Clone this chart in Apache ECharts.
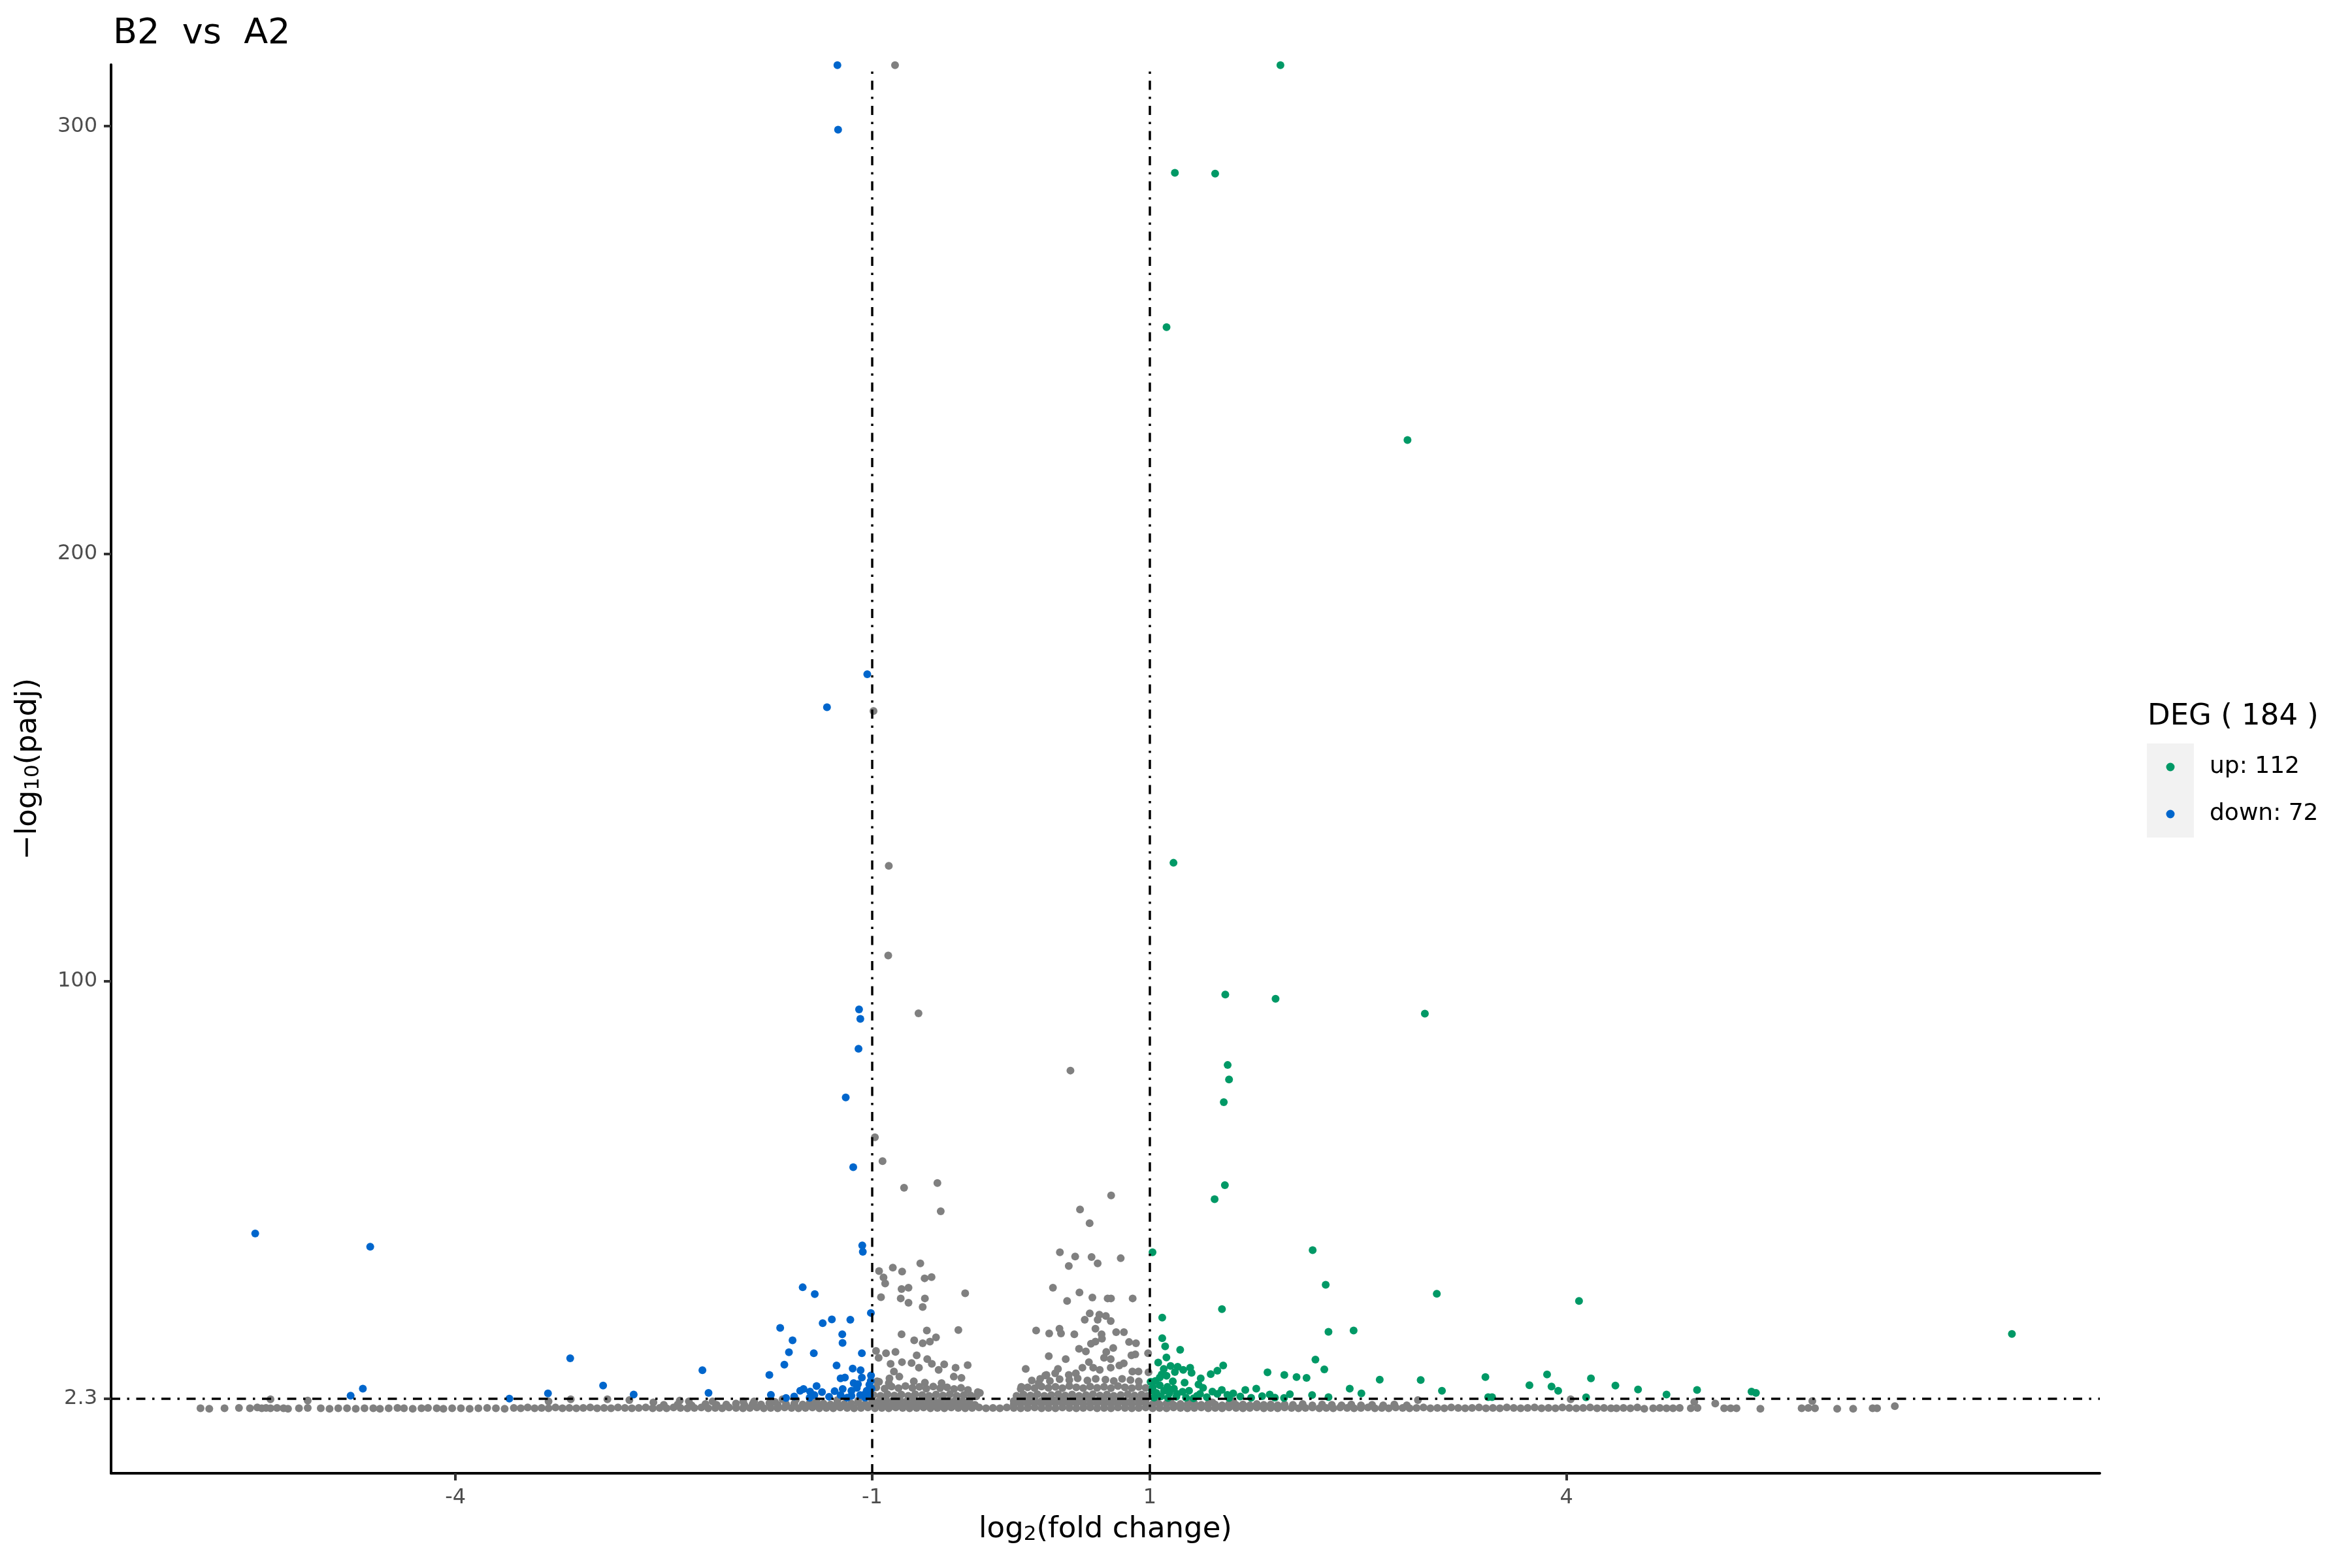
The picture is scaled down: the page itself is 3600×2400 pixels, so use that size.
<!DOCTYPE html>
<html>
<head>
<meta charset="utf-8">
<script src="https://cdn.jsdelivr.net/npm/echarts@6/dist/echarts.min.js"></script>
<style>html,body{margin:0;padding:0;background:#fff;}#c{width:3600px;height:2400px;}</style>
</head>
<body>
<div id="c"></div>
<script>
const titleText = 'B2  vs  A2';
const legendTitle = 'DEG ( 184 )';
const upName = 'up: 112';
const downName = 'down: 72';
const xTicks = [-4, -1, 1, 4];
const yTicks = [2.3, 100, 200, 300];
const fcCut = [-1, 1];
const padjCut = 2.3;

// significant up-regulated genes [log2FC, -log10(padj)]
const upPoints = [
[1.94,314.3],[1.18,289.1],[1.47,288.9],[1.12,253.0],[2.855,226.6],[1.17,127.7],[1.543,96.9],[1.905,95.9],
[2.98,92.4],[1.56,80.4],[1.57,77.0],[1.532,71.7],[1.54,52.3],[1.466,49.0],[2.172,37.1],[1.019,36.6],
[2.266,29.0],[3.066,26.9],[4.09,25.2],[1.519,23.3],[1.089,21.3],[2.286,18.0],[2.467,18.3],[7.207,17.5],
[1.089,16.5],[1.11,14.6],[1.119,12.0],[1.218,13.8],[2.192,11.5],[2.256,9.2],[1.847,8.5],[1.968,7.9],
[2.056,7.4],[2.128,7.2],[2.655,6.8],[2.95,6.7],[1.528,10.1],[1.486,8.9],[1.438,8.1],[1.366,7.1],
[1.29,9.6],[1.30,8.4],[1.24,9.1],[1.20,9.8],[1.149,10.0],[1.10,9.3],[1.085,8.0],[1.071,7.3],
[1.039,6.5],[1.005,6.3],[1.165,6.4],[1.25,6.1],[1.383,4.9],[2.439,4.7],[2.523,3.6],[1.687,4.4],
[1.766,4.7],[1.518,4.4],[2.168,3.2],[2.286,2.7],[2.008,3.4],[1.966,2.5],[1.863,3.3],[1.808,2.95],
[1.729,2.55],[1.651,2.85],[1.558,3.25],[1.486,3.45],[1.361,3.45],[1.314,2.45],[1.282,4.2],[1.235,3.95],
[1.196,3.45],[1.141,3.7],[1.102,4.2],[1.047,3.7],[1.016,4.2],[1.071,5.5],[1.126,5.1],[1.173,4.7],
[3.103,4.2],[3.416,7.4],[3.436,2.7],[3.464,2.7],[3.733,5.5],[3.86,8.0],[3.892,5.2],[3.94,4.2],
[4.141,2.65],[4.176,7.1],[4.352,5.4],[4.515,4.5],[4.72,3.3],[4.94,4.4],[5.332,4.0],[5.364,3.7],
[1.03,2.6],[1.08,2.9],[1.13,2.5],[1.19,2.8],[1.26,2.6],[1.34,3.0],[1.41,2.7],[1.45,4.0],
[1.6,3.6],[1.06,10.8],[1.12,7.7],[1.18,8.6],[1.35,5.7],[1.02,5.0],[1.57,2.5],[1.9,2.6]
];

// significant down-regulated genes
const downPoints = [
[-1.25,314.3],[-1.245,299.2],[-1.035,171.8],[-1.325,164.1],[-1.094,93.4],[-1.085,91.2],[-1.098,84.2],[-1.19,72.8],
[-1.136,56.5],[-5.442,41.0],[-4.614,37.9],[-1.071,38.2],[-1.067,36.7],[-1.50,28.4],[-1.413,26.8],[-1.009,22.4],
[-1.356,20.0],[-1.29,20.9],[-1.157,20.8],[-1.662,18.9],[-1.215,17.4],[-1.213,15.4],[-1.573,16.0],[-1.599,13.2],
[-1.42,13.0],[-1.074,13.0],[-1.632,10.3],[-1.256,10.1],[-1.14,9.4],[-1.083,9.0],[-1.74,7.9],[-1.227,7.1],
[-1.196,7.3],[-1.074,7.3],[-1.008,7.8],[-1.01,6.5],[-1.133,6.0],[-1.102,5.75],[-1.40,5.3],[-1.361,3.9],
[-1.518,4.2],[-1.494,4.6],[-1.447,4.0],[-1.416,3.2],[-1.729,3.25],[-1.561,2.85],[-1.212,4.6],[-1.149,4.2],
[-1.039,4.2],[-1.005,4.7],[-1.227,3.2],[-1.149,3.0],[-1.086,3.2],[-1.055,3.3],[-1.016,3.2],[-3.174,11.8],
[-4.667,4.7],[-4.755,3.05],[-3.612,2.35],[-3.334,3.6],[-2.937,5.4],[-2.717,3.3],[-2.222,9.0],[-2.178,3.7],
[-1.18,2.6],[-1.31,2.8],[-1.62,2.5],[-1.05,2.6],[-1.45,2.55],[-1.27,4.1],[-1.02,5.6],[-1.11,4.9]
];

// non-significant genes above the padj cut
const grayCluster = [
[-0.835,314.3],[-0.99,163.2],[-0.88,127.0],[-0.884,106.0],[-0.666,92.5],[0.428,79.1],[-0.98,63.5],[-0.925,57.9],
[-0.77,51.7],[-0.53,52.8],[-0.506,46.2],[0.721,49.9],[0.497,46.6],[0.566,43.4],[0.79,35.2],[0.876,25.8],
[0.72,25.8],[0.757,17.9],[0.813,17.9],[0.85,15.6],[0.90,15.3],[0.736,14.2],[0.867,12.5],[0.895,12.7],
[0.987,13.0],[0.352,36.6],[0.462,35.6],[0.58,35.5],[0.624,34.0],[0.416,33.4],[0.302,28.3],[0.493,27.2],
[0.586,26.0],[0.696,25.8],[0.404,25.2],[0.567,22.3],[0.531,20.8],[0.636,22.0],[0.683,21.7],[0.624,20.8],
[0.718,20.5],[0.181,18.3],[0.275,17.6],[0.349,18.7],[0.36,17.6],[0.456,17.4],[0.608,18.7],[0.652,17.4],
[0.655,16.4],[0.576,15.2],[0.608,15.7],[0.49,14.0],[0.539,13.4],[0.272,12.3],[0.394,11.6],[0.561,10.9],
[0.67,11.9],[0.718,11.6],[0.686,13.3],[0.106,9.3],[0.255,7.9],[0.318,8.3],[0.338,9.3],[0.416,7.9],
[0.467,8.3],[0.514,9.6],[0.592,9.6],[0.639,9.1],[0.718,9.6],[0.78,10.1],[0.812,10.6],[0.874,8.7],
[0.918,8.7],[0.99,8.5],[0.074,5.1],[0.2,6.0],[0.247,7.8],[-0.224,3.7],
[-0.95,32.2],[-0.851,33.0],[-0.784,32.1],[-0.653,34.0],[-0.918,30.7],[-0.906,29.3],[-0.622,30.5],[-0.572,30.8],
[-0.788,28.0],[-0.738,28.3],[-0.936,26.1],[-0.794,25.8],[-0.738,24.8],[-0.62,25.8],[-0.636,23.8],[-0.33,27.0],
[-0.788,17.4],[-0.606,18.3],[-0.379,18.4],[-0.697,16.0],[-0.636,15.3],[-0.584,15.7],[-0.54,16.7],[-0.972,13.5],
[-0.9,13.0],[-0.832,13.3],[-0.953,11.9],[-0.679,12.5],[-0.785,10.9],[-0.716,10.7],[-0.603,11.6],[-0.57,10.5],
[-0.481,10.4],[-0.399,9.6],[-0.312,10.2],[-0.867,10.5],[-0.843,8.7],[-0.663,9.6],[-0.521,9.1],[-0.412,7.5],
[-0.357,7.2],[-0.964,6.4],[-0.875,7.1],[-0.804,7.5],[-0.239,3.9],
[-0.99,3.2],[-0.94,3.0],[-0.89,3.4],[-0.84,3.1],[-0.79,3.3],[-0.74,3.0],[-0.69,3.4],[-0.64,3.2],
[-0.59,3.0],[-0.54,3.3],[-0.49,3.1],[-0.44,3.4],[-0.39,3.0],[-0.34,3.2],[-0.29,3.1],[-0.25,2.9],
[-0.97,5.0],[-0.91,4.7],[-0.86,5.2],[-0.81,4.8],[-0.76,5.3],[-0.71,4.9],[-0.66,5.1],[-0.61,4.7],
[-0.56,5.2],[-0.51,4.8],[-0.46,5.0],[-0.41,4.6],[-0.36,4.9],[-0.31,4.4],
[-0.95,6.3],[-0.88,6.0],[-0.7,6.4],[-0.62,6.1],[-0.5,6.0],
[0.04,3.0],[0.09,3.3],[0.14,3.1],[0.19,3.4],[0.24,3.0],[0.29,3.2],[0.34,3.4],[0.39,3.1],
[0.44,3.3],[0.49,3.0],[0.54,3.2],[0.59,3.4],[0.64,3.1],[0.69,3.3],[0.74,3.0],[0.79,3.2],
[0.84,3.4],[0.89,3.1],[0.94,3.3],[0.98,3.0],
[0.07,4.6],[0.12,5.0],[0.17,4.8],[0.22,5.2],[0.27,4.9],[0.32,5.1],[0.37,4.8],[0.42,5.3],
[0.47,5.0],[0.52,4.8],[0.57,5.2],[0.62,4.9],[0.67,5.1],[0.72,4.8],[0.77,5.3],[0.82,5.0],
[0.87,4.8],[0.92,5.1],[0.97,4.9],
[0.15,6.6],[0.21,7.0],[0.28,6.5],[0.35,6.9],[0.42,6.7],[0.48,7.1],[0.55,6.6],[0.61,7.0],
[0.68,6.8],[0.74,6.5],[0.8,7.0],[0.86,6.7],[0.92,6.4]
];

// non-significant genes: dense band under the padj cut
const grayBand = [
[-3.58,0.2],[-3.53,0.1],[-3.48,0.3],[-3.43,0.1],[-3.38,0.2],[-3.33,0.1],[-3.28,0.3],[-3.23,0.1],[-3.18,0.2],[-3.13,0.1],
[-3.08,0.2],[-3.03,0.3],[-2.98,0.1],[-2.93,0.2],[-2.88,0.1],[-2.83,0.3],[-2.78,0.2],[-2.73,0.1],[-2.68,0.2],[-2.63,0.3],
[-2.58,0.1],[-2.53,0.2],[-2.48,0.1],[-2.43,0.3],[-2.38,0.2],[-2.33,0.1],[-2.28,0.2],[-2.23,0.3],[-2.18,0.1],[-2.13,0.2],
[-2.08,0.1],[-2.03,0.3],[-1.98,0.2],[-1.93,0.1],[-1.88,0.2],[-1.83,0.3],[-1.78,0.1],[-1.73,0.2],[-1.68,0.1],[-1.63,0.3],
[-1.58,0.2],[-1.53,0.1],[-1.48,0.2],[-1.43,0.3],[-1.38,0.1],[-1.33,0.2],[-1.28,0.1],[-1.23,0.3],[-1.18,0.2],[-1.13,0.1],
[-1.08,0.2],[-1.03,0.3],[-0.98,0.1],[-0.93,0.2],[-0.88,0.1],[-0.83,0.3],[-0.78,0.2],[-0.73,0.1],[-0.68,0.2],[-0.63,0.3],
[-0.58,0.1],[-0.53,0.2],[-0.48,0.1],[-0.43,0.3],[-0.38,0.2],[-0.33,0.1],[-0.28,0.2],[-0.23,0.3],[-0.18,0.1],[-0.13,0.2],
[-0.08,0.1],[-0.03,0.3],[0.02,0.2],[0.07,0.1],[0.12,0.2],[0.17,0.3],[0.22,0.1],[0.27,0.2],[0.32,0.1],[0.37,0.3],
[0.42,0.2],[0.47,0.1],[0.52,0.2],[0.57,0.3],[0.62,0.1],[0.67,0.2],[0.72,0.1],[0.77,0.3],[0.82,0.2],[0.87,0.1],
[0.92,0.2],[0.97,0.3],[1.02,0.1],[1.07,0.2],[1.12,0.1],[1.17,0.3],[1.22,0.2],[1.27,0.1],[1.32,0.2],[1.37,0.3],
[1.42,0.1],[1.47,0.2],[1.52,0.1],[1.57,0.3],[1.62,0.2],[1.67,0.1],[1.72,0.2],[1.77,0.3],[1.82,0.1],[1.87,0.2],
[1.92,0.1],[1.97,0.3],[2.02,0.2],[2.07,0.1],[2.12,0.2],[2.17,0.3],[2.22,0.1],[2.27,0.2],[2.32,0.1],[2.37,0.3],
[2.42,0.2],[2.47,0.1],[2.52,0.2],[2.57,0.3],[2.62,0.1],[2.67,0.2],[2.72,0.1],[2.77,0.3],[2.82,0.2],[2.87,0.1],
[2.92,0.2],[2.97,0.3],[3.02,0.1],[3.07,0.2],[3.12,0.1],[3.17,0.3],[3.22,0.2],[3.27,0.1],[3.32,0.2],[3.37,0.3],
[3.42,0.1],[3.47,0.2],[3.52,0.1],[3.57,0.3],[3.62,0.2],[3.67,0.1],[3.72,0.2],[3.77,0.3],[3.82,0.1],[3.87,0.2],
[3.92,0.1],[3.97,0.3],[4.02,0.2],[4.07,0.1],[4.12,0.2],[4.17,0.3],[4.22,0.1],[4.27,0.2],[4.32,0.1],
[-2.5,0.9],[-2.4,1.0],[-2.3,0.8],[-2.2,1.1],[-2.12,0.9],[-2.05,1.0],[-1.98,1.2],[-1.92,0.9],[-1.86,1.1],[-1.8,1.0],
[-1.74,1.3],[-1.68,0.9],[-1.62,1.1],[-1.56,1.2],[-1.5,1.0],[-1.45,1.3],[-1.4,1.1],[-1.35,1.2],[-1.3,1.0],[-1.25,1.3],
[-1.2,1.1],[-1.15,1.2],[-1.1,1.4],[-1.05,1.1],[-1.0,1.3],[-0.95,1.2],[-0.9,1.1],[-0.85,1.3],[-0.8,1.2],[-0.75,1.1],
[-0.7,1.3],[-0.65,1.2],[-0.6,1.1],[-0.55,1.3],[-0.5,1.2],[-0.45,1.1],[-0.4,1.3],[-0.35,1.2],[-0.3,1.0],[-0.26,0.9],
[0.02,1.0],[0.07,1.2],[0.12,1.1],[0.17,1.3],[0.22,1.2],[0.27,1.1],[0.32,1.3],[0.37,1.2],[0.42,1.1],[0.47,1.3],
[0.52,1.2],[0.57,1.1],[0.62,1.3],[0.67,1.2],[0.72,1.1],[0.77,1.3],[0.82,1.2],[0.87,1.1],[0.92,1.3],[0.97,1.2],
[1.02,1.1],[1.07,1.0],[1.12,1.2],[1.17,0.9],[1.22,1.1],[1.27,1.0],[1.32,1.2],[1.37,0.9],[1.42,1.1],[1.47,1.0],
[1.52,0.8],[1.57,1.1],[1.62,0.9],[1.67,1.0],[1.72,0.8],[1.77,1.1],[1.82,0.9],[1.87,1.0],[1.92,0.8],[1.97,1.0],
[2.03,0.9],[2.1,1.1],[2.17,0.8],[2.24,1.0],[2.31,0.9],[2.38,0.8],[2.45,1.0],[2.52,0.8],[2.6,0.9],[2.68,0.8],
[2.76,1.0],[2.85,0.8],
[-1.0,2.0],[-0.95,1.8],[-0.9,2.1],[-0.85,1.9],[-0.8,2.0],[-0.75,1.8],[-0.7,2.1],[-0.65,1.9],[-0.6,2.0],[-0.55,1.8],
[-0.5,2.1],[-0.45,1.9],[-0.4,2.0],[-0.35,1.8],[-0.3,1.9],
[0.02,1.8],[0.07,2.0],[0.12,1.9],[0.17,2.1],[0.22,1.8],[0.27,2.0],[0.32,1.9],[0.37,2.1],[0.42,1.8],[0.47,2.0],
[0.52,1.9],[0.57,2.1],[0.62,1.8],[0.67,2.0],[0.72,1.9],[0.77,2.1],[0.82,1.8],[0.87,2.0],[0.92,1.9],[0.97,2.1],
[1.05,1.7],[1.15,1.6],[1.3,1.8],[1.45,1.5],[1.6,1.7],
[-1.1,1.9],[-1.25,2.0],[-1.4,1.8],[-1.55,2.1],[-1.7,1.6],[-1.85,1.7]
];

// non-significant genes: sparse tails
const grayTail = [
[-5.836,0.1],[-5.773,0.0],[-5.663,0.1],[-5.559,0.2],[-5.48,0.1],[-5.427,0.3],[-5.395,0.1],[-5.364,0.2],
[-5.332,2.2],[-5.332,0.1],[-5.285,0.2],[-5.238,0.1],[-5.206,0.0],[-5.127,0.1],[-5.064,1.9],[-5.064,0.2],
[-4.97,0.1],[-4.907,0.0],[-4.844,0.1],[-4.781,0.1],[-4.718,0.0],[-4.655,0.1],[-4.592,0.1],[-4.544,0.0],
[-4.481,0.1],[-4.418,0.2],[-4.371,0.1],[-4.308,0.0],[-4.245,0.1],[-4.198,0.2],[-4.135,0.1],[-4.087,0.0],
[-4.024,0.1],[-3.961,0.1],[-3.898,0.0],[-3.835,0.1],[-3.772,0.2],[-3.709,0.1],[-3.646,0.0],
[-3.33,1.7],[-3.17,2.2],[-2.906,2.2],[-2.748,2.0],[-2.575,1.5],[-2.385,1.9],[-2.32,1.7],[-2.149,1.7],
[-1.928,1.7],[-1.645,2.2],[2.93,2.0],[4.03,2.2],
[4.36,0.1],[4.41,0.2],[4.46,0.1],[4.51,0.3],[4.56,0.0],[4.624,0.1],[4.672,0.2],[4.72,0.1],
[4.767,0.1],[4.815,0.2],[4.895,0.1],[4.92,1.6],[4.943,0.2],[5.071,1.2],[5.135,0.1],[5.182,0.1],
[5.224,0.1],[5.396,0.0],[5.693,0.1],[5.741,0.2],[5.77,1.8],[5.789,0.1],[5.949,0.0],[6.064,0.0],
[6.204,0.1],[6.236,0.1],[6.364,0.6]
];

const colUp = '#009966', colDown = '#0066CC', colNo = '#808080';
const FONT = 'DejaVu Sans';
const dotSize = 12;

const chart = echarts.init(document.getElementById('c'), null, {renderer: 'canvas'});
const dash = [14, 10.5, 3.5, 10.5];
const legendItems = [
  {name: upName, color: colUp, cy: 1174},
  {name: downName, color: colDown, cy: 1246}
];
const legendGraphics = [
  {type: 'rect', left: 3286, top: 1138, z: 0, shape: {width: 72, height: 144}, style: {fill: '#F2F2F2'}},
  {type: 'text', x: 3287, y: 1097, z: 5,
   style: {text: legendTitle, fontSize: 45, fontFamily: FONT, fill: '#000', verticalAlign: 'middle', align: 'left'}}
];
legendItems.forEach(function (it) {
  legendGraphics.push({type: 'circle', z: 5, shape: {cx: 3322, cy: it.cy, r: 6.5}, style: {fill: it.color}});
  legendGraphics.push({type: 'text', x: 3382, y: it.cy, z: 5,
    style: {text: it.name, fontSize: 36, fontFamily: FONT, fill: '#000', verticalAlign: 'middle', align: 'left'}});
});

const option = {
  animation: false,
  backgroundColor: '#ffffff',
  textStyle: {fontFamily: FONT},
  title: {
    text: titleText, left: 168, top: 20,
    textStyle: {fontSize: 54, fontWeight: 'normal', color: '#000', fontFamily: FONT}
  },
  grid: {left: 170, top: 99, width: 3044, height: 2156, containLabel: false},
  xAxis: {
    type: 'value', min: -6.48, max: 7.84,
    name: '{a|log}{s|2}{a|(fold change)}',
    nameLocation: 'middle', nameGap: 64,
    nameTextStyle: {
      color: '#000', fontFamily: FONT, fontSize: 45,
      rich: {a: {fontSize: 45, fontFamily: FONT, color: '#000'},
             s: {fontSize: 31, fontFamily: FONT, color: '#000', lineHeight: 18, verticalAlign: 'bottom'}}
    },
    axisLine: {onZero: false, lineStyle: {color: '#000', width: 4}},
    axisTick: {show: true, customValues: xTicks, length: 11, lineStyle: {color: '#333333', width: 4}},
    axisLabel: {customValues: xTicks, fontSize: 32, color: '#4D4D4D', fontFamily: FONT, margin: 22},
    splitLine: {show: false}
  },
  yAxis: {
    type: 'value', min: -15.1, max: 314.4,
    name: '{a|\u2212log}{s|10}{a|(padj)}',
    nameLocation: 'middle', nameGap: 104, nameRotate: 90,
    nameTextStyle: {
      color: '#000', fontFamily: FONT, fontSize: 45,
      rich: {a: {fontSize: 45, fontFamily: FONT, color: '#000'},
             s: {fontSize: 31, fontFamily: FONT, color: '#000', lineHeight: 18, verticalAlign: 'bottom'}}
    },
    axisLine: {onZero: false, lineStyle: {color: '#000', width: 4}},
    axisTick: {show: true, customValues: yTicks, length: 11, lineStyle: {color: '#333333', width: 4}},
    axisLabel: {customValues: yTicks, fontSize: 32, color: '#4D4D4D', fontFamily: FONT, margin: 21},
    splitLine: {show: false}
  },
  graphic: legendGraphics,
  series: [
    {name: 'no', type: 'scatter', data: grayTail.concat(grayBand, grayCluster), symbolSize: dotSize,
     itemStyle: {color: colNo, opacity: 1}, silent: true, z: 2},
    {name: upName, type: 'scatter', data: upPoints, symbolSize: dotSize,
     itemStyle: {color: colUp, opacity: 1}, silent: true, z: 3},
    {name: downName, type: 'scatter', data: downPoints, symbolSize: dotSize,
     itemStyle: {color: colDown, opacity: 1}, silent: true, z: 3},
    {name: 'cut', type: 'scatter', data: [], silent: true, z: 6,
     markLine: {
       silent: true, symbol: ['none', 'none'], label: {show: false}, animation: false,
       lineStyle: {color: '#000', width: 3.5, type: dash},
       data: [{xAxis: fcCut[0]}, {xAxis: fcCut[1]}, {yAxis: padjCut}]
     }}
  ]
};
chart.setOption(option);
</script>
</body>
</html>
